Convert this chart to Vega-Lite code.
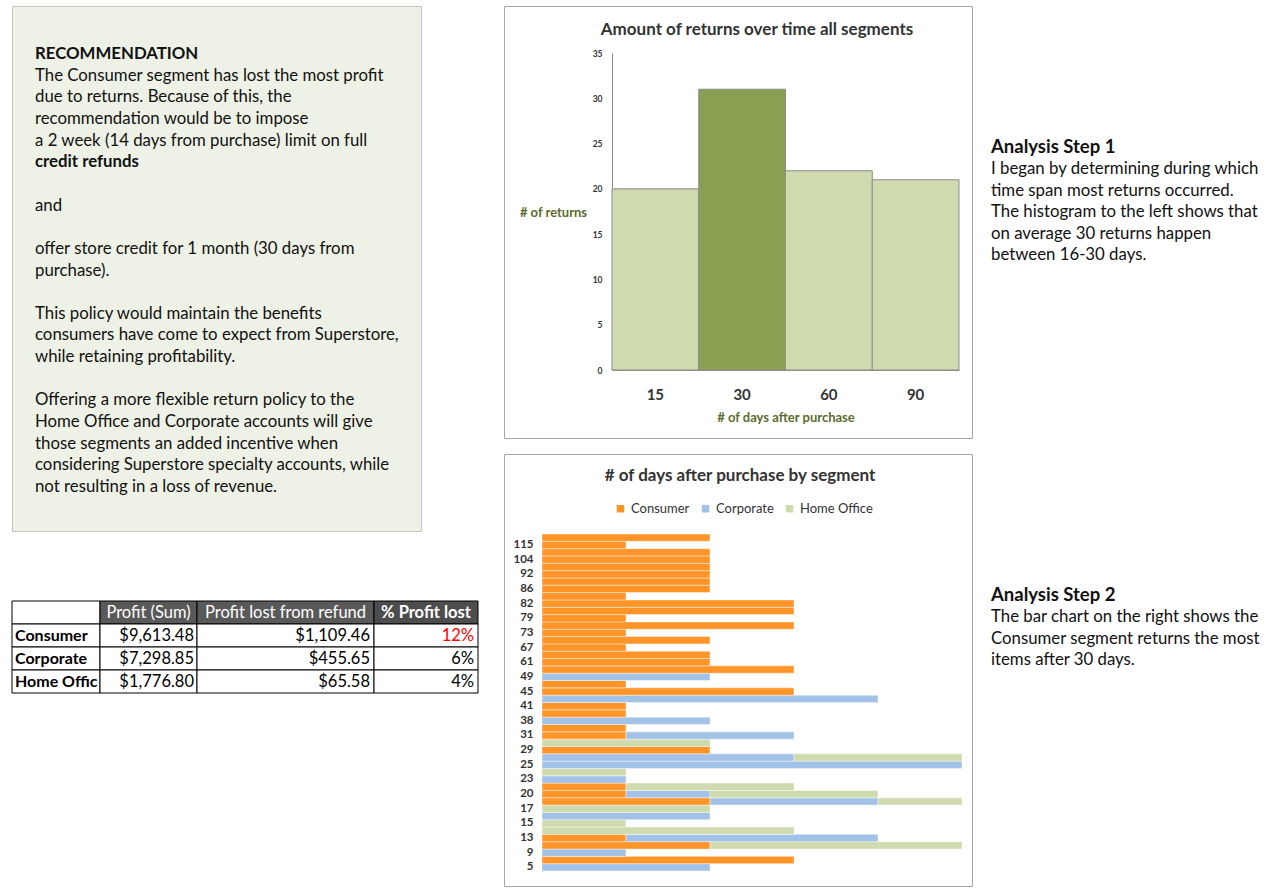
{
  "$schema": "https://vega.github.io/schema/vega-lite/v6.json",
  "padding": {"left": 11, "top": 5, "right": 5, "bottom": 5},
  "background": "white",
  "config": {"view": {"stroke": null}, "font": "Lato"},
  "datasets": {
    "rec": [
      {"line": 1, "text": "RECOMMENDATION", "bold": true},
      {"line": 2, "text": "The Consumer segment has lost the most profit", "bold": false},
      {"line": 3, "text": "due to returns. Because of this, the", "bold": false},
      {"line": 4, "text": "recommendation would be to impose", "bold": false},
      {"line": 5, "text": "a 2 week (14 days from purchase) limit on full", "bold": false},
      {"line": 6, "text": "credit refunds", "bold": true},
      {"line": 8, "text": "and", "bold": false},
      {"line": 10, "text": "offer store credit for 1 month (30 days from", "bold": false},
      {"line": 11, "text": "purchase).", "bold": false},
      {"line": 13, "text": "This policy would maintain the benefits", "bold": false},
      {"line": 14, "text": "consumers have come to expect from Superstore,", "bold": false},
      {"line": 15, "text": "while retaining profitability.", "bold": false},
      {"line": 17, "text": "Offering a more flexible return policy to the", "bold": false},
      {"line": 18, "text": "Home Office and Corporate accounts will give", "bold": false},
      {"line": 19, "text": "those segments an added incentive when", "bold": false},
      {"line": 20, "text": "considering Superstore specialty accounts, while", "bold": false},
      {"line": 21, "text": "not resulting in a loss of revenue.", "bold": false}
    ],
    "tbl": [
      {"segment": "header", "label": ""},
      {"segment": "Consumer", "label": "Consumer", "profit": 9613.48, "lost": 1109.46, "pct": 0.12},
      {"segment": "Corporate", "label": "Corporate", "profit": 7298.85, "lost": 455.65, "pct": 0.06},
      {"segment": "Home Office", "label": "Home Offic", "profit": 1776.80, "lost": 65.58, "pct": 0.04}
    ],
    "hist": [
      {"bin": "15", "count": 20},
      {"bin": "30", "count": 31},
      {"bin": "60", "count": 22},
      {"bin": "90", "count": 21}
    ],
    "seg": [
      {"day": 5, "segment": "Corporate", "count": 2},
      {"day": 7, "segment": "Consumer", "count": 3},
      {"day": 9, "segment": "Corporate", "count": 1},
      {"day": 11, "segment": "Consumer", "count": 2},
      {"day": 11, "segment": "Home Office", "count": 3},
      {"day": 13, "segment": "Consumer", "count": 1},
      {"day": 13, "segment": "Corporate", "count": 3},
      {"day": 14, "segment": "Home Office", "count": 3},
      {"day": 15, "segment": "Home Office", "count": 1},
      {"day": 16, "segment": "Corporate", "count": 2},
      {"day": 17, "segment": "Home Office", "count": 2},
      {"day": 19, "segment": "Consumer", "count": 2},
      {"day": 19, "segment": "Corporate", "count": 2},
      {"day": 19, "segment": "Home Office", "count": 1},
      {"day": 20, "segment": "Consumer", "count": 1},
      {"day": 20, "segment": "Corporate", "count": 1},
      {"day": 20, "segment": "Home Office", "count": 2},
      {"day": 22, "segment": "Consumer", "count": 1},
      {"day": 22, "segment": "Home Office", "count": 2},
      {"day": 23, "segment": "Corporate", "count": 1},
      {"day": 24, "segment": "Home Office", "count": 1},
      {"day": 25, "segment": "Corporate", "count": 5},
      {"day": 27, "segment": "Corporate", "count": 3},
      {"day": 27, "segment": "Home Office", "count": 2},
      {"day": 29, "segment": "Consumer", "count": 2},
      {"day": 30, "segment": "Home Office", "count": 2},
      {"day": 31, "segment": "Consumer", "count": 1},
      {"day": 31, "segment": "Corporate", "count": 2},
      {"day": 35, "segment": "Consumer", "count": 1},
      {"day": 38, "segment": "Corporate", "count": 2},
      {"day": 40, "segment": "Consumer", "count": 1},
      {"day": 41, "segment": "Consumer", "count": 1},
      {"day": 43, "segment": "Corporate", "count": 4},
      {"day": 45, "segment": "Consumer", "count": 3},
      {"day": 47, "segment": "Consumer", "count": 1},
      {"day": 49, "segment": "Corporate", "count": 2},
      {"day": 55, "segment": "Consumer", "count": 3},
      {"day": 61, "segment": "Consumer", "count": 2},
      {"day": 64, "segment": "Consumer", "count": 2},
      {"day": 67, "segment": "Consumer", "count": 1},
      {"day": 70, "segment": "Consumer", "count": 2},
      {"day": 73, "segment": "Consumer", "count": 1},
      {"day": 76, "segment": "Consumer", "count": 3},
      {"day": 79, "segment": "Consumer", "count": 1},
      {"day": 80, "segment": "Consumer", "count": 3},
      {"day": 82, "segment": "Consumer", "count": 3},
      {"day": 84, "segment": "Consumer", "count": 1},
      {"day": 86, "segment": "Consumer", "count": 2},
      {"day": 89, "segment": "Consumer", "count": 2},
      {"day": 92, "segment": "Consumer", "count": 2},
      {"day": 98, "segment": "Consumer", "count": 2},
      {"day": 104, "segment": "Consumer", "count": 2},
      {"day": 110, "segment": "Consumer", "count": 2},
      {"day": 115, "segment": "Consumer", "count": 1},
      {"day": 120, "segment": "Consumer", "count": 2}
    ],
    "steps": [
      {"step": 1, "line": 0, "text": "Analysis Step 1", "bold": true},
      {"step": 1, "line": 1, "text": "I began by determining during which", "bold": false},
      {"step": 1, "line": 2, "text": "time span most returns occurred.", "bold": false},
      {"step": 1, "line": 3, "text": "The histogram to the left shows that", "bold": false},
      {"step": 1, "line": 4, "text": "on average 30 returns happen", "bold": false},
      {"step": 1, "line": 5, "text": "between 16-30 days.", "bold": false},
      {"step": 2, "line": 0, "text": "Analysis Step 2", "bold": true},
      {"step": 2, "line": 1, "text": "The bar chart on the right shows the", "bold": false},
      {"step": 2, "line": 2, "text": "Consumer segment returns the most", "bold": false},
      {"step": 2, "line": 3, "text": "items after 30 days.", "bold": false}
    ]
  },
  "spacing": 24,
  "hconcat": [
    {
      "vconcat": [
        {
          "width": 409,
          "height": 525,
          "view": {"fill": "#eef1e5", "stroke": "#c4c4c4"},
          "data": {"name": "rec"},
          "encoding": {
            "y": {"field": "line", "type": "quantitative", "scale": {"domain": [-1.217, 23.03], "reverse": true}, "axis": null},
            "x": {"datum": 0, "type": "quantitative", "scale": {"domain": [0, 1]}, "axis": null},
            "text": {"field": "text"}
          },
          "layer": [
            {"transform": [{"filter": "!datum.bold"}], "mark": {"type": "text", "align": "left", "baseline": "middle", "dx": 23, "fontSize": 16.8, "color": "#111111"}},
            {"transform": [{"filter": "datum.bold"}], "mark": {"type": "text", "align": "left", "baseline": "middle", "dx": 23, "fontSize": 16.8, "fontWeight": "bold", "color": "#111111"}}
          ]
        },
        {
          "spacing": 0,
          "bounds": "flush",
          "hconcat": [
            {
              "width": 88, "height": 92,
              "data": {"name": "tbl"},
              "encoding": {
                "y": {"field": "segment", "type": "nominal", "sort": ["header", "Consumer", "Corporate", "Home Office"], "scale": {"paddingInner": 0, "paddingOuter": 0}, "axis": null}
              },
              "layer": [
                {"mark": {"type": "rect", "fill": "white", "stroke": "black", "strokeWidth": 1}},
                {"transform": [{"filter": "datum.segment !== 'header'"}],
                 "mark": {"type": "text", "align": "left", "baseline": "middle", "dx": 3, "fontSize": 16, "fontWeight": "bold", "color": "black"},
                 "encoding": {"x": {"datum": 0, "type": "quantitative", "scale": {"domain": [0, 1]}, "axis": null}, "text": {"field": "label"}}}
              ]
            },
            {
              "width": 97, "height": 92,
              "data": {"name": "tbl"},
              "encoding": {
                "y": {"field": "segment", "type": "nominal", "sort": ["header", "Consumer", "Corporate", "Home Office"], "scale": {"paddingInner": 0, "paddingOuter": 0}, "axis": null}
              },
              "layer": [
                {"mark": {"type": "rect", "stroke": "black", "strokeWidth": 1},
                 "encoding": {"color": {"condition": {"test": "datum.segment === 'header'", "value": "#595959"}, "value": "white"}}},
                {"transform": [{"filter": "datum.segment !== 'header'"}],
                 "mark": {"type": "text", "align": "right", "baseline": "middle", "dx": -3, "fontSize": 16.5, "color": "black"},
                 "encoding": {"x": {"datum": 1, "type": "quantitative", "scale": {"domain": [0, 1]}, "axis": null}, "text": {"field": "profit", "format": "$,.2f"}}},
                {"transform": [{"filter": "datum.segment === 'header'"}],
                 "mark": {"type": "text", "align": "center", "baseline": "middle", "fontSize": 16.5, "color": "white"},
                 "encoding": {"text": {"value": "Profit (Sum)"}}}
              ]
            },
            {
              "width": 177, "height": 92,
              "data": {"name": "tbl"},
              "encoding": {
                "y": {"field": "segment", "type": "nominal", "sort": ["header", "Consumer", "Corporate", "Home Office"], "scale": {"paddingInner": 0, "paddingOuter": 0}, "axis": null}
              },
              "layer": [
                {"mark": {"type": "rect", "stroke": "black", "strokeWidth": 1},
                 "encoding": {"color": {"condition": {"test": "datum.segment === 'header'", "value": "#595959"}, "value": "white"}}},
                {"transform": [{"filter": "datum.segment !== 'header'"}],
                 "mark": {"type": "text", "align": "right", "baseline": "middle", "dx": -4, "fontSize": 16.5, "color": "black"},
                 "encoding": {"x": {"datum": 1, "type": "quantitative", "scale": {"domain": [0, 1]}, "axis": null}, "text": {"field": "lost", "format": "$,.2f"}}},
                {"transform": [{"filter": "datum.segment === 'header'"}],
                 "mark": {"type": "text", "align": "center", "baseline": "middle", "fontSize": 16.5, "color": "white"},
                 "encoding": {"text": {"value": "Profit lost from refund"}}}
              ]
            },
            {
              "width": 104, "height": 92,
              "data": {"name": "tbl"},
              "encoding": {
                "y": {"field": "segment", "type": "nominal", "sort": ["header", "Consumer", "Corporate", "Home Office"], "scale": {"paddingInner": 0, "paddingOuter": 0}, "axis": null}
              },
              "layer": [
                {"mark": {"type": "rect", "stroke": "black", "strokeWidth": 1},
                 "encoding": {"color": {"condition": {"test": "datum.segment === 'header'", "value": "#4d4d4d"}, "value": "white"}}},
                {"transform": [{"filter": "datum.segment !== 'header'"}],
                 "mark": {"type": "text", "align": "right", "baseline": "middle", "dx": -4, "fontSize": 16.5},
                 "encoding": {"x": {"datum": 1, "type": "quantitative", "scale": {"domain": [0, 1]}, "axis": null}, "text": {"field": "pct", "format": ".0%"},
                   "color": {"condition": {"test": "datum.segment === 'Consumer'", "value": "#ff0000"}, "value": "black"}}},
                {"transform": [{"filter": "datum.segment === 'header'"}],
                 "mark": {"type": "text", "align": "center", "baseline": "middle", "fontSize": 16.5, "fontWeight": "bold", "color": "white"},
                 "encoding": {"text": {"value": "% Profit lost"}}}
              ]
            }
          ]
        }
      ],
      "spacing": 70,
      "bounds": "flush"
    },
    {
      "spacing": 18,
      "hconcat": [
        {
          "spacing": 16,
          "bounds": "flush",
          "vconcat": [
            {
              "width": 468, "height": 432,
              "view": {"fill": "white", "stroke": "#a6a6a6"},
              "title": {"text": "Amount of returns over time all segments", "fontSize": 17, "fontWeight": "bold", "color": "#333333", "frame": "group", "anchor": "middle", "offset": -41, "baseline": "middle", "dx": 19},
              "data": {"name": "hist"},
              "mark": {"type": "bar", "stroke": "#8c8c8c", "strokeWidth": 1},
              "encoding": {
                "x": {"field": "bin", "type": "nominal", "sort": ["15", "30", "60", "90"],
                  "scale": {"range": [108, 455], "paddingInner": 0, "paddingOuter": 0},
                  "axis": {"orient": "bottom", "offset": -68, "ticks": false, "domainColor": "#8c8c8c", "labelAngle": 0, "labelFontSize": 15, "labelFontWeight": "bold", "labelColor": "#333333", "labelPadding": 17,
                    "title": "# of days after purchase", "titleFontSize": 13, "titleFontWeight": "bold", "titleColor": "#5b6b2d", "titleY": 47, "titleBaseline": "middle"}},
                "y": {"field": "count", "type": "quantitative", "scale": {"domain": [0, 35], "range": [364, 47]},
                  "axis": {"orient": "left", "offset": -108, "values": [0, 5, 10, 15, 20, 25, 30, 35], "ticks": false, "grid": false, "domainColor": "#8c8c8c", "labelFontSize": 8.5, "labelFontWeight": "bold", "labelColor": "#333333", "labelPadding": 10,
                    "title": "# of returns", "titleAngle": 0, "titleX": -59, "titleY": 206, "titleAlign": "center", "titleBaseline": "middle", "titleFontSize": 13, "titleFontWeight": "bold", "titleColor": "#5b6b2d"}},
                "color": {"condition": {"test": "datum.bin === '30'", "value": "#8a9f51"}, "value": "#cfdbae"}
              }
            },
            {
              "width": 468, "height": 432,
              "view": {"fill": "white", "stroke": "#a6a6a6"},
              "title": {"text": "# of days after purchase by segment", "fontSize": 17, "fontWeight": "bold", "color": "#333333", "frame": "group", "anchor": "middle", "offset": -39, "baseline": "middle", "dx": 2},
              "data": {"name": "seg"},
              "mark": {"type": "bar", "stroke": "white", "strokeWidth": 0.6, "strokeOpacity": 0.7},
              "encoding": {
                "y": {"field": "day", "type": "ordinal", "sort": "descending",
                  "scale": {"range": [80, 417], "paddingInner": 0, "paddingOuter": 0},
                  "axis": {"orient": "left", "offset": -38, "values": [5, 9, 13, 15, 17, 20, 23, 25, 29, 31, 38, 41, 45, 49, 61, 67, 73, 79, 82, 86, 92, 104, 115], "ticks": false, "domainColor": "#8c8c8c", "labelFontSize": 11.5, "labelFontWeight": "bold", "labelColor": "#333333", "labelPadding": 9, "title": null}},
                "x": {"field": "count", "type": "quantitative", "stack": "zero", "scale": {"domain": [0, 5], "range": [38, 458]}, "axis": null},
                "color": {"field": "segment", "type": "nominal",
                  "scale": {"domain": ["Consumer", "Corporate", "Home Office"], "range": ["#ff9428", "#a3c2e7", "#cfdbae"]},
                  "legend": {"orient": "none", "legendX": 602, "legendY": 496, "direction": "horizontal", "title": null, "symbolType": "square", "symbolSize": 56, "symbolStrokeWidth": 0, "labelFontSize": 13, "labelColor": "#333333", "labelOffset": 4, "columnPadding": 9}}
              }
            }
          ]
        },
        {
          "spacing": 16,
          "bounds": "flush",
          "vconcat": [
            {
              "width": 274, "height": 432,
              "data": {"name": "steps"},
              "transform": [{"filter": "datum.step === 1"}],
              "encoding": {
                "y": {"field": "line", "type": "quantitative", "scale": {"domain": [-6.55, 13.45], "reverse": true}, "axis": null},
                "x": {"datum": 0, "type": "quantitative", "scale": {"domain": [0, 1]}, "axis": null},
                "text": {"field": "text"}
              },
              "layer": [
                {"transform": [{"filter": "!datum.bold"}], "mark": {"type": "text", "align": "left", "baseline": "middle", "fontSize": 16.8, "color": "#111111"}},
                {"transform": [{"filter": "datum.bold"}], "mark": {"type": "text", "align": "left", "baseline": "middle", "fontSize": 18.5, "fontWeight": "bold", "color": "#111111"}}
              ]
            },
            {
              "width": 274, "height": 432,
              "data": {"name": "steps"},
              "transform": [{"filter": "datum.step === 2"}],
              "encoding": {
                "y": {"field": "line", "type": "quantitative", "scale": {"domain": [-6.55, 13.45], "reverse": true}, "axis": null},
                "x": {"datum": 0, "type": "quantitative", "scale": {"domain": [0, 1]}, "axis": null},
                "text": {"field": "text"}
              },
              "layer": [
                {"transform": [{"filter": "!datum.bold"}], "mark": {"type": "text", "align": "left", "baseline": "middle", "fontSize": 16.8, "color": "#111111"}},
                {"transform": [{"filter": "datum.bold"}], "mark": {"type": "text", "align": "left", "baseline": "middle", "fontSize": 18.5, "fontWeight": "bold", "color": "#111111"}}
              ]
            }
          ]
        }
      ]
    }
  ]
}
